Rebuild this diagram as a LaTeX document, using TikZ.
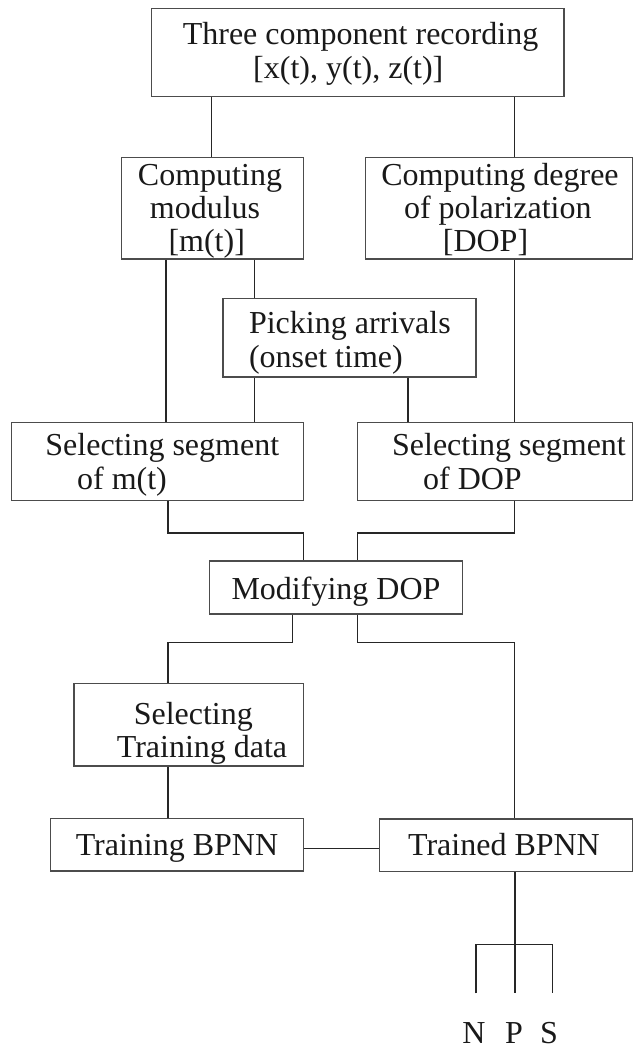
\documentclass[tikz,border=0pt]{standalone}
\usepackage{fontspec}
\setmainfont{Liberation Serif}
\usetikzlibrary{fit}
\begin{document}
\begin{tikzpicture}[x=0.5pt,y=-0.5pt,
  box/.style={draw=black!70,line width=0.7pt,inner sep=0pt,rectangle},
  conn/.style={draw=black!85,line width=0.65pt},
  lbl/.style={inner sep=0pt,font=\fontsize{16}{18}\selectfont,text=black!90}]
\useasboundingbox (0,0) rectangle (641,1048);
% boxes
\node[box,fit={(151.7,8.3) (564,96.7)}] (top) {};
\node[box,fit={(121.7,157.3) (303.3,259)}] (mod) {};
\node[box,fit={(365.7,157.3) (632.3,259)}] (dop) {};
\node[box,fit={(222.8,298.3) (476,377)}] (pick) {};
\node[box,fit={(11.7,422.7) (303.3,500.7)}] (selm) {};
\node[box,fit={(357.7,422.7) (632.3,500.7)}] (seld) {};
\node[box,fit={(209.3,561) (462.3,614)}] (modif) {};
\node[box,fit={(74,683.3) (303.3,766)}] (seltr) {};
\node[box,fit={(50.7,818.3) (303.3,871)}] (train) {};
\node[box,fit={(379.3,819) (632.3,871.5)}] (trained) {};
% texts
\node[lbl,anchor=base] (t1) at (360.5,45) {Three component recording};
\node[lbl,anchor=base] (t2) at (348.3,79) {[x(t), y(t), z(t)]};
\node[lbl,anchor=base] (m1) at (210,185.5) {Computing};
\node[lbl,anchor=base] (m2) at (205,218.5) {modulus};
\node[lbl,anchor=base] (m3) at (206.7,251.5) {[m(t)]};
\node[lbl,anchor=base] (d1) at (500,185.5) {Computing degree};
\node[lbl,anchor=base] (d2) at (497.8,218.5) {of polarization};
\node[lbl,anchor=base] (d3) at (485.5,251.5) {[DOP]};
\node[lbl,anchor=base west] (p1) at (248.6,333) {Picking arrivals};
\node[lbl,anchor=base west] (p2) at (248.6,367) {(onset time)};
\node[lbl,anchor=base west] (sm1) at (45,455.5) {Selecting segment};
\node[lbl,anchor=base west] (sm2) at (76.7,489.5) {of m(t)};
\node[lbl,anchor=base west] (sd1) at (391.7,455.5) {Selecting segment};
\node[lbl,anchor=base west] (sd2) at (422.7,489.5) {of DOP};
\node[lbl,anchor=base] (md) at (336,599) {Modifying DOP};
\node[lbl,anchor=base] (st1) at (193.3,724) {Selecting};
\node[lbl,anchor=base] (st2) at (202,757.5) {Training data};
\node[lbl,anchor=base] (tb) at (177,855) {Training BPNN};
\node[lbl,anchor=base] (tdb) at (504,855.5) {Trained BPNN};
\node[lbl,anchor=base] (N) at (474,1043) {N};
\node[lbl,anchor=base] (P) at (514,1043) {P};
\node[lbl,anchor=base] (S) at (549,1043) {S};
% line positions
\coordinate (xa) at (211.7,0);
\coordinate (xr) at (514.5,0);
\coordinate (xb) at (166,0);
\coordinate (xc) at (254.3,0);
\coordinate (xd) at (408,0);
\coordinate (k1) at (168,533);
\coordinate (k2) at (303.3,533);
\coordinate (k3) at (514.3,533);
\coordinate (k4) at (357.5,533);
\coordinate (k5) at (292.3,642.5);
\coordinate (k6) at (168,642.5);
\coordinate (k7) at (357.3,642.5);
\coordinate (k8) at (514.3,642.5);
\coordinate (br) at (515,944.3);
\coordinate (bN) at (476,993.3);
\coordinate (bP) at (515,993.3);
\coordinate (bS) at (552.7,993.3);
% connectors
\draw[conn] (top.south -| xa) -- (mod.north -| xa);
\draw[conn] (top.south -| xr) -- (dop.north -| xr);
\draw[conn] (mod.south -| xb) -- (selm.north -| xb);
\draw[conn] (mod.south -| xc) -- (pick.north -| xc);
\draw[conn] (pick.south -| xc) -- (selm.north -| xc);
\draw[conn] (pick.south -| xd) -- (seld.north -| xd);
\draw[conn] (dop.south -| xr) -- (seld.north -| xr);
\draw[conn] (selm.south -| k1) -- (k1) -- (k2) -- (modif.north -| k2);
\draw[conn] (seld.south -| k3) -- (k3) -- (k4) -- (modif.north -| k4);
\draw[conn] (modif.south -| k5) -- (k5) -- (k6) -- (seltr.north -| k6);
\draw[conn] (modif.south -| k7) -- (k7) -- (k8) -- (trained.north -| k8);
\draw[conn] (seltr.south -| k6) -- (train.north -| k6);
\draw[conn] (train.east |- 0,848.3) -- (trained.west |- 0,848.3);
\draw[conn] (trained.south -| br) -- (br);
\draw[conn] (bN) -- (bN |- br) -- (bS |- br) -- (bS);
\draw[conn] (br) -- (bP);
\end{tikzpicture}
\end{document}
